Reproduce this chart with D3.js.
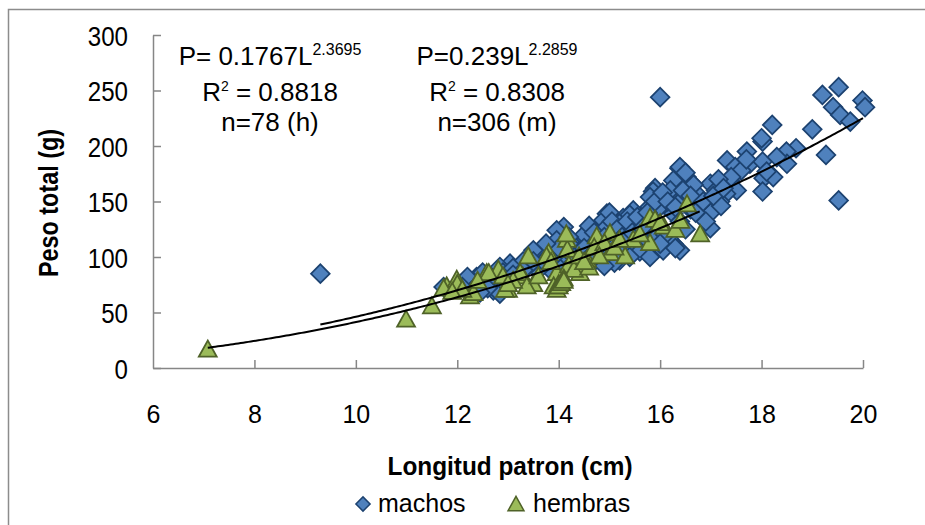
<!DOCTYPE html>
<html>
<head>
<meta charset="utf-8">
<script src="https://d3js.org/d3.v7.min.js"></script>
<style>
  body { margin: 0; background: #fff; }
  text { font-family: Arial, "Liberation Sans", sans-serif; }
</style>
</head>
<body>
<div id="chart"></div>
<script>
// DATA  [longitud (cm), peso (g)]
var machos = [
  [9.3,85],[16.0,244],[19.2,246],[19.52,253],[19.99,241],[20.04,235],[19.41,235],[19.55,228],
  [19.75,222],[18.21,219],[19.0,215],[18.02,204],[18.0,207],[18.68,198],[18.49,195],[18.5,184],
  [19.27,192],[19.52,151],[17.71,195],[17.32,187],[17.77,184],[18.02,186],[18.04,171],[18.23,172],
  [18.02,159],[17.48,181],[17.6,178],[17.38,169],[17.51,160],[17.3,157],[16.99,166],[17.18,150],
  [16.99,126],[16.38,180],[16.38,172],[16.59,168],[15.9,162],[16.0,153],[16.09,148],[15.79,145],
  [16.26,139],[16.39,132],[15.85,136],[15.99,127],[16.26,112],[16.06,106],[15.73,118],[16.79,148],
  [16.72,157],[17.1,160],[16.39,181],[16.52,172],[16.26,169],[15.86,159],[16.66,165],[16.33,154],
  [15.8,154],[15.87,142],[15.99,145],[15.47,142],[15.27,135],[14.95,139],[14.88,133],[15.08,128],
  [15.34,124],[15.57,121],[14.62,121],[14.49,115],[14.1,127],[15.92,118],[15.79,109],[16.18,116],
  [16.39,106],[15.47,106],[14.95,100],[15.2,97],[13.83,106],[13.7,101],[13.5,106],[13.96,124],
  [13.96,115],[13.04,94],[12.84,91],[12.38,82],[11.73,73],[12.2,82],[12.71,70],[12.84,67],
  [14.3,110],[14.5,120],[14.6,105],[14.8,112],[14.9,125],[15.0,118],[15.1,110],[15.2,130],
  [15.3,115],[15.4,138],[15.5,128],[15.6,112],[15.7,133],[15.0,140],[14.7,96],[14.4,93],
  [14.2,98],[14.0,95],[13.8,90],[13.6,88],[13.4,92],[13.2,85],[13.0,80],[12.9,86],
  [12.6,78],[12.5,80],[12.4,75],[12.3,70],[12.1,73],[13.3,96],[13.1,90],[14.1,103],
  [14.6,128],[14.8,98],[15.1,95],[15.6,105],[16.1,120],[16.5,125],[16.8,138],[17.0,140],
  [17.2,146],[16.9,132],[16.6,143],[16.4,150],[16.2,160],[16.5,176],[17.4,172],[17.7,188],
  [18.1,177],[18.3,190],[14.2,118],[14.4,105],[14.5,108],[14.7,122],[14.9,118],[15.05,132],
  [15.15,125],[15.25,118],[15.35,132],[15.45,122],[15.55,136],[15.65,126],[15.75,140],[15.9,150],
  [16.05,158],[16.15,150],[16.3,145],[16.45,160],[16.6,155],[16.7,140],[16.85,150],[17.05,155],
  [17.15,170],[17.25,162],[15.2,104],[15.4,100],[15.8,100],[16.0,112],[16.3,108],[14.3,100],
  [14.6,100],[14.9,92],[13.9,100],[13.7,96],[13.5,96],[13.3,88],[13.1,84],[12.95,76],
  [12.6,72],[12.45,68],[12.5,86],[14.0,108],[14.2,112],[13.75,112]
];

var hembras = [
  [7.08,16],[10.99,43],[11.5,55],[11.79,73],[11.99,79],[12.25,64],[12.58,85],[12.81,88],
  [13.0,70],[13.29,82],[13.5,75],[13.8,103],[14.03,79],[14.16,115],[14.17,106],[14.42,85],
  [14.56,97],[14.75,118],[15.01,121],[15.01,103],[15.31,100],[15.47,115],[15.8,135],[15.8,112],
  [16.07,127],[16.3,124],[13.96,70],[13.4,100],[16.79,120],[16.53,147],[15.9,133],[11.73,71],
  [12.0,75],[12.62,85],[13.24,85],[12.32,67],[12.94,70],[13.37,73],[13.76,100],[13.96,85],
  [13.9,73],[14.2,92],[14.3,88],[14.4,100],[14.6,90],[14.7,108],[14.9,112],[15.1,108],
  [15.2,115],[14.1,80],[14.0,75],[13.6,82],[13.1,78],[12.9,82],[12.4,78],[12.1,70],
  [11.9,68],[14.5,95],[14.8,100],[15.6,120],[16.0,130],[16.4,132],[14.15,120],[13.85,95],
  [14.0,73],[14.05,76],[14.1,78],[13.0,75]
];

var xTicks = [6, 8, 10, 12, 14, 16, 18, 20];
var yTicks = [0, 50, 100, 150, 200, 250, 300];

// power fits  P = a * L^b   [a, b, Lmin, Lmax]
var fitHembras = [0.1767, 2.3695, 7.08, 16.8];
var fitMachos  = [0.239, 2.2859, 9.3, 20.0];

// equation labels
var eqHembras = ['P= 0.1767L', '2.3695', '0.8818', 'n=78 (h)'];
var eqMachos  = ['P=0.239L', '2.2859', '0.8308', 'n=306 (m)'];

var seriesNames = ['machos', 'hembras'];

// MAIN
var width  = 925;
var height = 525;

var svg = d3.select('#chart')
  .append('svg')
  .attr('width', width)
  .attr('height', height);

// outer frame (right/bottom edges fall outside the picture)
svg.append('rect')
  .attr('x', 8.5)
  .attr('y', 9.5)
  .attr('width', 960)
  .attr('height', 560)
  .attr('fill', 'none')
  .attr('stroke', '#8c8c8c')
  .attr('stroke-width', 1.5);

var xScale = d3.scaleLinear()
  .domain([6, 20])
  .range([153, 863]);

var yScale = d3.scaleLinear()
  .domain([0, 300])
  .range([368, 35]);

// y axis, ticks pointing inward
var yAxis = d3.axisLeft(yScale)
  .tickValues(yTicks)
  .tickSizeInner(-8)
  .tickSizeOuter(0)
  .tickPadding(25);

var yGuide = svg.append('g')
  .attr('transform', 'translate(153,0)')
  .call(yAxis);

// x axis, ticks pointing inward
var xAxis = d3.axisBottom(xScale)
  .tickValues(xTicks)
  .tickSizeInner(-8)
  .tickSizeOuter(0)
  .tickPadding(37);

var xGuide = svg.append('g')
  .attr('transform', 'translate(0,368)')
  .call(xAxis);

[xGuide, yGuide].forEach(function(g) {
  g.select('.domain').attr('stroke', '#868686').attr('stroke-width', 1.5);
  g.selectAll('.tick line').attr('stroke', '#868686').attr('stroke-width', 1.5);
  g.selectAll('.tick text')
    .attr('fill', '#000')
    .style('font-size', '25px')
    .style('font-family', 'Arial, "Liberation Sans", sans-serif');
});
// y labels look a bit narrow and tall in the original
yGuide.selectAll('.tick text')
  .attr('dy', '0.38em')
  .style('font-size', '27px')
  .attr('textLength', function(d) { return String(d).length * 13.4; })
  .attr('lengthAdjust', 'spacingAndGlyphs');
// the 6 tick sits on the corner, no tick mark there
xGuide.selectAll('.tick line').filter(function(d) { return d === 6; }).remove();

// marker shapes
var diamond = d3.symbol().type(d3.symbolSquare).size(175);
// triangle about as tall as it is wide, like the spreadsheet marker
var triangleType = {
  draw: function(ctx, size) {
    var w = Math.sqrt(size) * 0.76;
    var h = w * 1.8;
    ctx.moveTo(0, -h * 0.6);
    ctx.lineTo(w, h * 0.4);
    ctx.lineTo(-w, h * 0.4);
    ctx.closePath();
  }
};
var triangle = d3.symbol().type(triangleType).size(140);

// machos first, hembras drawn over them
svg.append('g').selectAll('path')
  .data(machos)
  .enter()
  .append('path')
  .attr('d', diamond)
  .attr('transform', function(d) {
    return 'translate(' + xScale(d[0]) + ',' + yScale(d[1]) + ') rotate(45)';
  })
  .attr('fill', '#4f81bd')
  .attr('stroke', '#1c4270')
  .attr('stroke-width', 1.75);

svg.append('g').selectAll('path')
  .data(hembras)
  .enter()
  .append('path')
  .attr('d', triangle)
  .attr('transform', function(d) {
    return 'translate(' + xScale(d[0]) + ',' + yScale(d[1]) + ')';
  })
  .attr('fill', '#9bbb59')
  .attr('stroke', '#4f6228')
  .attr('stroke-width', 1.75);

// trend lines from the fitted equations
var line = d3.line()
  .x(function(d) { return xScale(d[0]); })
  .y(function(d) { return yScale(d[1]); });

[fitHembras, fitMachos].forEach(function(f) {
  var pts = d3.range(f[2], f[3] + 0.001, 0.05).map(function(L) {
    return [L, f[0] * Math.pow(L, f[1])];
  });
  svg.append('path')
    .attr('d', line(pts))
    .attr('fill', 'none')
    .attr('stroke', '#000')
    .attr('stroke-width', 2);
});

// equation text blocks
function addEquation(eq, cx) {
  var t1 = svg.append('text')
    .attr('x', cx)
    .attr('y', 65)
    .attr('text-anchor', 'middle')
    .style('font-size', '26px');
  t1.append('tspan').text(eq[0]);
  t1.append('tspan').attr('dy', -10).style('font-size', '16px').text(eq[1]);

  var t2 = svg.append('text')
    .attr('x', cx)
    .attr('y', 101)
    .attr('text-anchor', 'middle')
    .style('font-size', '26px');
  t2.append('tspan').text('R');
  t2.append('tspan').attr('dy', -10).style('font-size', '14px').text('2');
  t2.append('tspan').attr('dy', 10).text(' = ' + eq[2]);

  svg.append('text')
    .attr('x', cx)
    .attr('y', 131)
    .attr('text-anchor', 'middle')
    .style('font-size', '26px')
    .text(eq[3]);
}
addEquation(eqHembras, 270);
addEquation(eqMachos, 497);

// axis titles
svg.append('text')
  .attr('transform', 'translate(58,203) rotate(-90)')
  .attr('text-anchor', 'middle')
  .attr('textLength', 148)
  .attr('lengthAdjust', 'spacingAndGlyphs')
  .style('font-size', '28px')
  .style('font-weight', 'bold')
  .text('Peso total (g)');

svg.append('text')
  .attr('x', 510)
  .attr('y', 475)
  .attr('text-anchor', 'middle')
  .attr('textLength', 245)
  .attr('lengthAdjust', 'spacingAndGlyphs')
  .style('font-size', '26px')
  .style('font-weight', 'bold')
  .text('Longitud patron (cm)');

// legend
var legend = svg.append('g');
legend.append('path')
  .attr('d', d3.symbol().type(d3.symbolSquare).size(100))
  .attr('transform', 'translate(363,504) rotate(45)')
  .attr('fill', '#4f81bd')
  .attr('stroke', '#1c4270')
  .attr('stroke-width', 1.5);
legend.append('text')
  .attr('x', 378)
  .attr('y', 512)
  .style('font-size', '25px')
  .text(seriesNames[0]);

legend.append('path')
  .attr('d', d3.symbol().type(triangleType).size(110))
  .attr('transform', 'translate(516,505)')
  .attr('fill', '#9bbb59')
  .attr('stroke', '#4f6228')
  .attr('stroke-width', 1.5);
legend.append('text')
  .attr('x', 533)
  .attr('y', 512)
  .style('font-size', '25px')
  .text(seriesNames[1]);
</script>
</body>
</html>
